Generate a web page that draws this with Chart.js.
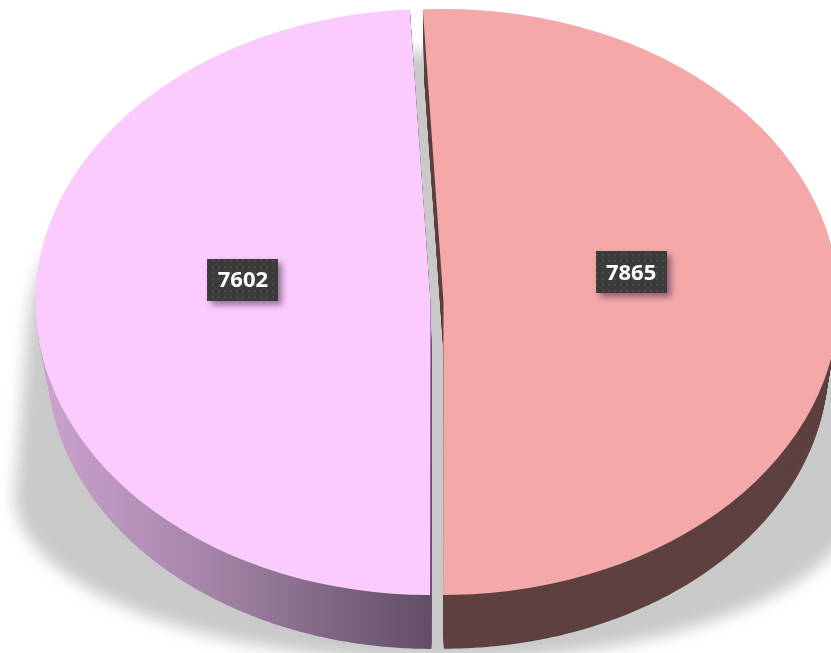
<!DOCTYPE html>
<html>
<head>
<meta charset="utf-8">
<script src="https://cdn.jsdelivr.net/npm/chart.js@4.4.1/dist/chart.umd.min.js"></script>
<style>
  html, body { margin: 0; padding: 0; background: #fff; }
  canvas { display: block; }
</style>
</head>
<body>
<canvas id="pieChart" width="831" height="653"></canvas>
<script>
const categories = ['Category A', 'Category B'];
const values = [7865, 7602];
const topColors = ['#f4a8a8', '#fccbfe'];

// 3d look: ellipse of the top face, depth of the side wall
const view = { cx: 437, cy: 302, rx: 395, ry: 293, explode: 6.5, depth: 62, shrink: 0.972, driftX: 1 };
const labelLift = -26;

function midAngle(arc) {
    return (arc.startAngle + arc.endAngle) / 2
}

function slicePath(ctx, arc, t) {
    const s = 1 - t * (1 - view.shrink)
    const m = midAngle(arc)
    const ox = view.cx + t * view.driftX + s * view.explode * Math.cos(m)
    const oy = view.cy + t * view.depth + s * view.explode * Math.sin(m) * view.ry / view.rx
    const steps = Math.ceil((arc.endAngle - arc.startAngle) / (Math.PI / 360))
    ctx.beginPath()
    ctx.moveTo(ox, oy)
    for (let i = 0; i <= steps; i++) {
        const a = arc.startAngle + (arc.endAngle - arc.startAngle) * i / steps
        ctx.lineTo(ox + s * view.rx * Math.cos(a), oy + s * view.ry * Math.sin(a))
    }
    ctx.closePath()
}

function wallFill(ctx, i) {
    if (i === 0) return '#5f4142'
    const g = ctx.createLinearGradient(45, 0, 428, 0)
    g.addColorStop(0, '#cba2cd')
    g.addColorStop(0.45, '#a283a5')
    g.addColorStop(1, '#634e67')
    return g
}

function drawShadow(ctx) {
    ctx.save()
    ctx.filter = 'blur(8px)'
    ctx.fillStyle = '#c9c9c9'
    ctx.beginPath()
    for (let k = 0; k <= 20; k++) {
        const t = k / 20
        const rx = 410 + 12 * t
        ctx.moveTo(view.cx + rx, 345 + 150 * t)
        ctx.ellipse(view.cx, 345 + 150 * t, rx, 293 - 127 * t, 0, 0, Math.PI * 2)
    }
    ctx.fill()
    ctx.restore()
}

function drawWall(ctx, arc, i) {
    ctx.save()
    ctx.fillStyle = wallFill(ctx, i)
    const n = 70
    for (let k = n; k > 0; k--) {
        slicePath(ctx, arc, k / n)
        ctx.fill()
    }
    ctx.restore()
}

function drawTop(ctx, arc) {
    const m = midAngle(arc)
    const R = arc.outerRadius
    ctx.save()
    ctx.translate(view.cx + view.explode * Math.cos(m), view.cy + view.explode * Math.sin(m) * view.ry / view.rx)
    ctx.scale(view.rx / R, view.ry / R)
    ctx.translate(-arc.x, -arc.y)
    arc.draw(ctx)
    ctx.restore()
}

let boxPattern = null
function getBoxPattern(ctx) {
    if (boxPattern) return boxPattern
    const c = document.createElement('canvas')
    c.width = 6
    c.height = 6
    const p = c.getContext('2d')
    p.fillStyle = '#3b3b3b'
    p.fillRect(0, 0, 6, 6)
    p.fillStyle = '#4a4a4a'
    p.fillRect(2, 2, 2, 2)
    boxPattern = ctx.createPattern(c, 'repeat')
    return boxPattern
}

function drawLabel(ctx, arc, value) {
    const m = midAngle(arc)
    const x = view.cx + view.explode * Math.cos(m) + 0.475 * view.rx * Math.cos(m)
    const y = view.cy + 0.475 * view.ry * Math.sin(m) + labelLift
    const w = 71, h = 42
    ctx.save()
    ctx.shadowColor = 'rgba(50, 20, 50, 0.5)'
    ctx.shadowBlur = 6
    ctx.shadowOffsetX = 4
    ctx.shadowOffsetY = 4
    ctx.fillStyle = getBoxPattern(ctx)
    ctx.fillRect(Math.round(x - w / 2), Math.round(y - h / 2), w, h)
    ctx.restore()
    ctx.save()
    ctx.fillStyle = '#ffffff'
    ctx.font = 'bold 22px "Open Sans"'
    ctx.textAlign = 'center'
    ctx.textBaseline = 'middle'
    ctx.fillText(String(value), x, y + 1)
    ctx.restore()
}

const pie3d = {
    id: 'pie3d',
    beforeDatasetsDraw(chart) {
        const ctx = chart.ctx
        const arcs = chart.getDatasetMeta(0).data
        drawShadow(ctx)
        arcs.forEach((arc, i) => drawWall(ctx, arc, i))
        arcs.forEach(arc => drawTop(ctx, arc))
        arcs.forEach((arc, i) => drawLabel(ctx, arc, values[i]))
        return false
    }
}

const pieChart = new Chart(document.getElementById('pieChart'), {
    type: 'pie',
    data: {
        labels: categories,
        datasets: [{
            data: values,
            backgroundColor: topColors,
            borderWidth: 0
        }]
    },
    options: {
        responsive: false,
        animation: false,
        rotation: -3,
        events: [],
        plugins: {
            legend: { display: false },
            tooltip: { enabled: false }
        }
    },
    plugins: [pie3d]
});
</script>
</body>
</html>
